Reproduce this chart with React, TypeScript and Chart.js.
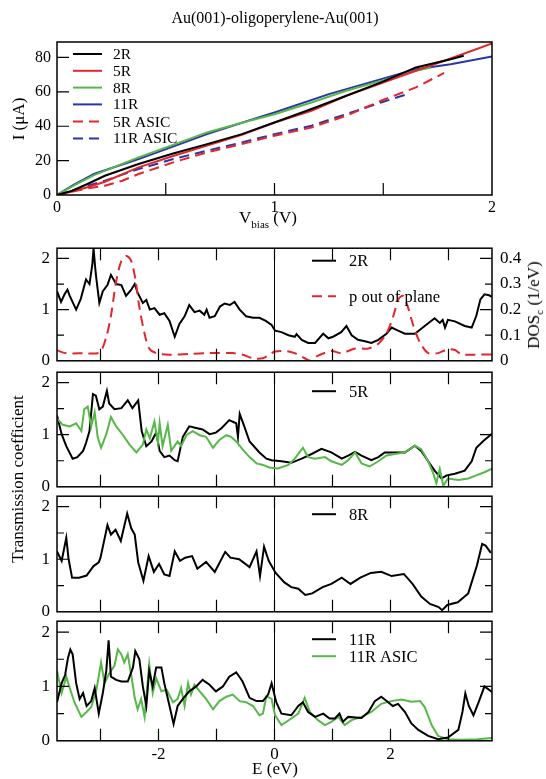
import React, { useEffect, useRef } from 'react';
import { Chart, registerables } from 'chart.js';

Chart.register(...registerables);

const SERIF = '"Liberation Serif", "Times New Roman", serif';
const BLACK = '#000000';
const RED = '#e3262b';
const GREEN = '#55b848';
const BLUE = '#2c35a6';

// ---------------- I-V curves (V in volts, I in µA) ----------------
const v2R = [0, 0.07, 0.14, 0.22, 0.375, 0.53, 0.69, 0.85, 1.0, 1.17, 1.33, 1.49, 1.65, 1.81, 1.87];
const i2R = [0, 2.5, 6.4, 11.2, 18, 24, 29.6, 35.4, 42.2, 50, 57.7, 65.5, 74.2, 79, 81];
const v5R = [0, 0.07, 0.14, 0.22, 0.375, 0.53, 0.69, 0.85, 1.0, 1.17, 1.33, 1.49, 1.65, 1.81, 2.0];
const i5R = [0, 2.0, 4.5, 7.7, 16.1, 22.5, 28.7, 35, 42.2, 49, 57.7, 65, 72.3, 79.4, 88.1];
const v8R = [0, 0.07, 0.17, 0.375, 0.53, 0.69, 0.85, 1.0, 1.17, 1.33, 1.49, 1.65, 1.72];
const i8R = [0, 5, 11.6, 21.9, 29, 36.4, 42, 47, 53.8, 60.6, 66.4, 72.3, 74.2];
const v11R = [0, 0.07, 0.17, 0.375, 0.53, 0.69, 0.85, 1.0, 1.25, 1.49, 1.65, 1.81, 2.0];
const i11R = [0, 5.4, 12.2, 20.9, 28, 35.4, 42, 48, 58.7, 67.4, 73.2, 76.1, 80.6];
const v5RA = [0, 0.14, 0.22, 0.3, 0.375, 0.535, 0.69, 0.85, 1.0, 1.17, 1.33, 1.49, 1.65, 1.78];
const i5RA = [0, 3.9, 5.4, 8.3, 12.2, 19, 24.8, 29.6, 34.5, 39.3, 46.1, 54.8, 62.6, 71];
const v11RA = [0, 0.14, 0.22, 0.375, 0.535, 0.69, 0.85, 1.0, 1.17, 1.33, 1.49, 1.62];
const i11RA = [0, 5.4, 8.3, 15.1, 20.9, 25.8, 30.6, 35.4, 40.3, 47.1, 53.8, 59];

// ---------------- Transmission / DOS (E in eV) ----------------
const e2R = [-3.75, -3.68, -3.62, -3.57, -3.53, -3.42, -3.34, -3.25, -3.19, -3.14, -3.12, -3.09, -3.07, -3.02, -2.96, -2.88, -2.82, -2.73, -2.64, -2.56, -2.47, -2.41, -2.36, -2.27, -2.21, -2.15, -2.07, -1.98, -1.9, -1.81, -1.72, -1.64, -1.55, -1.47, -1.38, -1.29, -1.21, -1.17, -1.12, -1.03, -0.94, -0.86, -0.77, -0.69, -0.6, -0.49, -0.37, -0.26, -0.15, -0.05, 0.01, 0.12, 0.24, 0.35, 0.38, 0.47, 0.58, 0.7, 0.84, 0.93, 1.01, 1.15, 1.24, 1.33, 1.44, 1.56, 1.67, 1.79, 1.93, 2.02, 2.13, 2.25, 2.42, 2.59, 2.76, 2.85, 2.9, 2.94, 2.99, 3.11, 3.28, 3.4, 3.48, 3.55, 3.62, 3.7, 3.75];
const t2R = [1.36, 1.15, 1.3, 1.39, 1.27, 1.0, 1.21, 1.59, 1.5, 1.89, 2.2, 1.8, 1.59, 1.13, 1.36, 1.48, 1.68, 1.5, 1.48, 1.27, 1.39, 1.5, 1.33, 1.13, 1.19, 1.0, 1.03, 0.9, 0.93, 0.78, 0.47, 0.72, 0.87, 1.09, 0.95, 0.98, 0.9, 1.0, 0.84, 0.87, 1.06, 1.12, 1.09, 1.15, 1.0, 0.87, 0.84, 0.84, 0.78, 0.7, 0.59, 0.56, 0.5, 0.47, 0.52, 0.41, 0.35, 0.35, 0.53, 0.44, 0.47, 0.56, 0.68, 0.5, 0.41, 0.38, 0.35, 0.41, 0.53, 0.65, 0.59, 0.53, 0.53, 0.68, 0.83, 0.74, 0.8, 0.65, 0.8, 0.77, 0.68, 0.65, 0.88, 1.2, 1.3, 1.28, 1.25];

const eDos = [-3.75, -3.6, -3.3, -3.02, -2.9, -2.82, -2.73, -2.64, -2.55, -2.47, -2.4, -2.33, -2.24, -2.16, -2.04, -1.81, -1.47, -1.12, -0.72, -0.55, -0.37, -0.2, -0.09, 0.01, 0.21, 0.35, 0.52, 0.61, 0.75, 0.98, 1.16, 1.39, 1.62, 1.79, 1.93, 2.05, 2.14, 2.22, 2.3, 2.39, 2.51, 2.65, 2.82, 2.99, 3.11, 3.22, 3.45, 3.75];
const dosP = [0.041, 0.03, 0.03, 0.033, 0.094, 0.176, 0.31, 0.39, 0.41, 0.39, 0.32, 0.21, 0.106, 0.048, 0.03, 0.024, 0.027, 0.03, 0.03, 0.024, 0.01, 0.01, 0.024, 0.036, 0.038, 0.03, 0.01, 0.0, 0.02, 0.038, 0.03, 0.048, 0.048, 0.067, 0.106, 0.176, 0.242, 0.254, 0.21, 0.14, 0.07, 0.03, 0.03, 0.045, 0.042, 0.026, 0.024, 0.025];

const e5R = [-3.75, -3.67, -3.59, -3.48, -3.4, -3.3, -3.25, -3.19, -3.13, -3.08, -3.02, -2.96, -2.89, -2.85, -2.76, -2.64, -2.53, -2.45, -2.35, -2.29, -2.21, -2.12, -2.04, -1.98, -1.9, -1.81, -1.72, -1.67, -1.58, -1.47, -1.35, -1.24, -1.12, -1.01, -0.91, -0.78, -0.66, -0.63, -0.6, -0.53, -0.43, -0.26, -0.14, -0.05, 0.12, 0.29, 0.47, 0.64, 0.81, 0.98, 1.16, 1.27, 1.39, 1.5, 1.67, 1.79, 1.9, 2.07, 2.25, 2.42, 2.53, 2.65, 2.76, 2.88, 2.97, 3.11, 3.28, 3.4, 3.48, 3.6, 3.75];
const t5R = [1.37, 1.01, 0.78, 0.54, 0.57, 0.69, 0.84, 1.07, 1.78, 1.75, 1.49, 1.54, 1.84, 1.6, 1.49, 1.51, 1.66, 1.51, 1.66, 1.07, 0.78, 0.87, 1.04, 0.69, 0.57, 0.6, 0.51, 0.49, 0.96, 1.16, 1.13, 1.1, 1.01, 1.04, 1.13, 1.28, 1.22, 0.96, 1.4, 1.19, 0.87, 0.66, 0.54, 0.51, 0.49, 0.46, 0.54, 0.63, 0.73, 0.66, 0.54, 0.6, 0.67, 0.6, 0.51, 0.57, 0.66, 0.66, 0.66, 0.79, 0.69, 0.49, 0.31, 0.16, 0.22, 0.25, 0.31, 0.49, 0.75, 0.88, 1.02];

const e5RA = [-3.75, -3.65, -3.53, -3.42, -3.33, -3.28, -3.22, -3.16, -3.1, -3.05, -2.99, -2.9, -2.82, -2.73, -2.61, -2.5, -2.38, -2.27, -2.21, -2.15, -2.07, -2.01, -1.98, -1.93, -1.84, -1.78, -1.67, -1.61, -1.52, -1.41, -1.29, -1.18, -1.06, -0.95, -0.83, -0.75, -0.66, -0.55, -0.43, -0.31, -0.2, -0.09, 0.06, 0.24, 0.35, 0.49, 0.58, 0.7, 0.87, 0.98, 1.16, 1.27, 1.39, 1.5, 1.64, 1.79, 1.93, 2.07, 2.25, 2.42, 2.53, 2.65, 2.74, 2.79, 2.85, 2.91, 2.99, 3.17, 3.34, 3.48, 3.62, 3.75];
const t5RA = [1.31, 1.19, 1.16, 1.22, 1.07, 1.49, 1.54, 1.16, 1.43, 0.96, 0.75, 1.01, 1.34, 1.16, 0.99, 0.81, 0.66, 0.81, 1.1, 0.93, 1.25, 0.84, 1.22, 0.78, 1.19, 0.69, 0.87, 0.78, 0.99, 1.07, 0.99, 0.96, 0.75, 0.9, 0.99, 0.96, 0.87, 0.72, 0.57, 0.45, 0.42, 0.37, 0.35, 0.42, 0.54, 0.75, 0.57, 0.54, 0.57, 0.49, 0.42, 0.51, 0.66, 0.45, 0.39, 0.49, 0.6, 0.63, 0.66, 0.79, 0.72, 0.49, 0.25, 0.07, 0.34, 0.02, 0.16, 0.13, 0.16, 0.22, 0.28, 0.35];

const e8R = [-3.75, -3.67, -3.59, -3.55, -3.49, -3.37, -3.24, -3.12, -3.03, -3.0, -2.88, -2.82, -2.74, -2.65, -2.54, -2.47, -2.41, -2.35, -2.26, -2.17, -2.08, -1.99, -1.9, -1.81, -1.72, -1.63, -1.54, -1.42, -1.33, -1.18, -1.03, -0.85, -0.76, -0.61, -0.43, -0.31, -0.25, -0.18, -0.1, 0.02, 0.17, 0.29, 0.41, 0.53, 0.65, 0.83, 0.98, 1.16, 1.31, 1.48, 1.66, 1.84, 2.02, 2.23, 2.38, 2.53, 2.68, 2.83, 2.89, 2.98, 3.16, 3.34, 3.49, 3.58, 3.64, 3.73];
const t8R = [1.15, 0.97, 1.41, 1.0, 0.65, 0.65, 0.69, 0.87, 0.94, 1.03, 1.65, 1.47, 1.56, 1.35, 1.87, 1.59, 1.47, 0.94, 0.59, 1.06, 0.76, 0.91, 0.71, 0.68, 1.15, 0.97, 1.03, 1.06, 0.82, 0.95, 0.76, 1.14, 1.03, 1.0, 0.85, 1.15, 0.68, 1.24, 0.97, 0.74, 0.56, 0.47, 0.44, 0.32, 0.35, 0.47, 0.53, 0.65, 0.53, 0.65, 0.74, 0.76, 0.68, 0.72, 0.53, 0.29, 0.15, 0.09, 0.03, 0.13, 0.18, 0.35, 0.88, 1.29, 1.26, 1.12];

const e11R = [-3.75, -3.67, -3.61, -3.56, -3.52, -3.48, -3.42, -3.36, -3.3, -3.24, -3.16, -3.1, -3.03, -2.96, -2.9, -2.86, -2.82, -2.73, -2.64, -2.53, -2.44, -2.4, -2.33, -2.27, -2.21, -2.16, -2.1, -2.04, -1.95, -1.9, -1.81, -1.74, -1.67, -1.58, -1.47, -1.35, -1.24, -1.12, -1.01, -0.89, -0.78, -0.66, -0.55, -0.43, -0.31, -0.2, -0.11, -0.05, 0.03, 0.12, 0.29, 0.41, 0.49, 0.58, 0.7, 0.84, 0.95, 1.04, 1.12, 1.18, 1.27, 1.5, 1.62, 1.73, 1.84, 1.96, 2.04, 2.13, 2.25, 2.36, 2.48, 2.65, 2.82, 2.99, 3.17, 3.24, 3.29, 3.35, 3.43, 3.52, 3.62, 3.75];
const t11R = [0.71, 1.06, 1.21, 1.53, 1.68, 1.59, 1.06, 0.77, 0.88, 0.64, 0.73, 0.97, 0.5, 0.88, 1.29, 1.85, 1.18, 1.12, 1.09, 1.09, 1.35, 1.65, 1.5, 1.0, 0.64, 1.29, 1.0, 1.35, 1.35, 1.06, 0.64, 0.31, 0.64, 0.77, 0.91, 1.0, 1.12, 1.03, 0.91, 1.0, 1.18, 1.26, 1.09, 0.79, 0.73, 0.73, 0.85, 1.06, 0.71, 0.5, 0.47, 0.64, 0.71, 0.53, 0.44, 0.5, 0.41, 0.41, 0.5, 0.35, 0.44, 0.42, 0.53, 0.73, 0.81, 0.71, 0.64, 0.68, 0.53, 0.32, 0.2, 0.09, 0.03, 0.06, 0.2, 0.53, 0.87, 0.64, 0.47, 0.71, 1.0, 0.9];

const e11RA = [-3.75, -3.67, -3.59, -3.53, -3.45, -3.33, -3.24, -3.16, -3.07, -2.99, -2.93, -2.85, -2.76, -2.7, -2.64, -2.59, -2.53, -2.47, -2.41, -2.36, -2.3, -2.24, -2.16, -2.1, -2.04, -1.95, -1.86, -1.75, -1.67, -1.61, -1.55, -1.49, -1.44, -1.38, -1.29, -1.18, -1.06, -0.95, -0.83, -0.72, -0.6, -0.49, -0.37, -0.26, -0.2, -0.14, -0.05, 0.01, 0.12, 0.29, 0.41, 0.52, 0.61, 0.75, 0.87, 0.98, 1.1, 1.21, 1.33, 1.5, 1.67, 1.84, 2.01, 2.19, 2.36, 2.51, 2.59, 2.71, 2.82, 2.99, 3.22, 3.5, 3.75];
const t11RA = [1.29, 0.88, 1.18, 0.97, 0.71, 0.44, 0.53, 0.62, 0.94, 1.44, 1.06, 1.24, 1.38, 1.68, 1.59, 1.44, 1.59, 1.21, 0.79, 0.58, 0.77, 0.44, 1.41, 0.88, 1.15, 0.91, 0.94, 0.71, 0.77, 0.97, 0.64, 1.06, 0.85, 1.03, 0.91, 0.77, 0.58, 0.73, 0.81, 0.85, 0.73, 0.71, 0.64, 0.47, 0.5, 0.82, 0.77, 0.47, 0.29, 0.41, 0.5, 0.79, 0.53, 0.38, 0.29, 0.35, 0.44, 0.29, 0.38, 0.44, 0.53, 0.68, 0.73, 0.76, 0.72, 0.73, 0.62, 0.29, 0.09, 0.03, 0.02, 0.03, 0.05];

// ---------------- axis tick definitions ----------------
const vTickStep = 0.5;
const iTickStep = 20;
const eTickStep = 1;
const tTickStep = 0.5;
const dosTickStep = 0.1;

const W = 546;
const PLOT_LEFT = 57;
const PLOT_RIGHT = 492;

const zip = (xs: number[], ys: number[]) =>
  xs.slice(0, Math.min(xs.length, ys.length)).map((x, i) => ({ x, y: ys[i] }));

type LegendItem = { label: string; color: string; dash?: number[]; dy: number };
type FrameOpts = {
  zeroLine?: boolean;
  mirrorX?: boolean;
  mirrorY?: boolean;
  xLen: number;
  yMajor: number;
  yMinor: number;
  legend: { x0: number; x1: number; tx: number; font: string; items: LegendItem[] };
};

function makeFrame(o: FrameOpts) {
  return {
    id: 'frame',
    beforeDatasetsDraw(chart: any) {
      if (!o.zeroLine) return;
      const { ctx, chartArea } = chart;
      const x = chart.scales.x.getPixelForValue(0);
      ctx.save();
      ctx.strokeStyle = BLACK;
      ctx.lineWidth = 1;
      ctx.beginPath();
      ctx.moveTo(x, chartArea.top);
      ctx.lineTo(x, chartArea.bottom);
      ctx.stroke();
      ctx.restore();
    },
    afterDraw(chart: any) {
      const { ctx, chartArea } = chart;
      const { left, right, top, bottom } = chartArea;
      ctx.save();
      ctx.strokeStyle = BLACK;
      ctx.lineWidth = 1.5;
      ctx.setLineDash([]);
      ctx.strokeRect(left, top, right - left, bottom - top);
      ctx.lineWidth = 1.2;
      ctx.beginPath();
      const xs = chart.scales.x;
      xs.ticks.forEach((t: any) => {
        const px = xs.getPixelForValue(t.value);
        if (px <= left + 1 || px >= right - 1) return;
        ctx.moveTo(px, bottom);
        ctx.lineTo(px, bottom - o.xLen);
        if (o.mirrorX) {
          ctx.moveTo(px, top);
          ctx.lineTo(px, top + o.xLen);
        }
      });
      const ys = chart.scales.y;
      ys.ticks.forEach((t: any) => {
        const py = ys.getPixelForValue(t.value);
        if (py <= top + 1 || py >= bottom - 1) return;
        const len = Math.abs(t.value - Math.round(t.value)) < 1e-6 ? o.yMajor : o.yMinor;
        ctx.moveTo(left, py);
        ctx.lineTo(left + len, py);
        if (o.mirrorY) {
          ctx.moveTo(right, py);
          ctx.lineTo(right - len, py);
        }
      });
      ctx.stroke();
      // legend
      const lg = o.legend;
      lg.items.forEach((it) => {
        const y = top + it.dy;
        ctx.beginPath();
        ctx.strokeStyle = it.color;
        ctx.lineWidth = 2;
        ctx.setLineDash(it.dash || []);
        ctx.moveTo(left + lg.x0, y);
        ctx.lineTo(left + lg.x1, y);
        ctx.stroke();
        ctx.setLineDash([]);
        ctx.fillStyle = BLACK;
        ctx.font = lg.font;
        ctx.textBaseline = 'middle';
        ctx.textAlign = 'left';
        ctx.fillText(it.label, left + lg.tx, y + 1);
      });
      ctx.restore();
    },
  };
}

const isInt = (v: number) => Math.abs(v - Math.round(v)) < 1e-6;

function lineDs(label: string, data: { x: number; y: number }[], color: string, dash?: number[], yAxisID = 'y', tension = 0) {
  return {
    label,
    data,
    borderColor: color,
    backgroundColor: color,
    borderWidth: 2,
    borderDash: dash || [],
    pointRadius: 0,
    fill: false,
    tension,
    yAxisID,
  };
}

type PanelSpec = {
  canvasTop: number;
  canvasH: number;
  areaTop: number;
  areaBottom: number;
  build: (areaTop: number, areaBottom: number, canvasTop: number, canvasH: number) => any;
};

function ChartCanvas({ spec }: { spec: PanelSpec }) {
  const ref = useRef<HTMLCanvasElement | null>(null);
  useEffect(() => {
    if (!ref.current) return;
    const chart = new Chart(ref.current, spec.build(spec.areaTop, spec.areaBottom, spec.canvasTop, spec.canvasH));
    return () => chart.destroy();
  }, []);
  return (
    <canvas
      ref={ref}
      width={W}
      height={spec.canvasH}
      style={{ position: 'absolute', left: 0, top: spec.canvasTop, width: W, height: spec.canvasH }}
    />
  );
}

const tickFont = (size: number) => ({ family: SERIF, size });

function ivConfig(areaTop: number, areaBottom: number, canvasTop: number, canvasH: number) {
  const frame = makeFrame({
    xLen: 12,
    yMajor: 12,
    yMinor: 12,
    legend: {
      x0: 16,
      x1: 45,
      tx: 56,
      font: `15.5px ${SERIF}`,
      items: [
        { label: '2R', color: BLACK, dy: 12 },
        { label: '5R', color: RED, dy: 28.8 },
        { label: '8R', color: GREEN, dy: 45.6 },
        { label: '11R', color: BLUE, dy: 62.4 },
        { label: '5R ASIC', color: RED, dash: [10, 6], dy: 79.6 },
        { label: '11R ASIC', color: BLUE, dash: [10, 6], dy: 96.4 },
      ],
    },
  });
  return {
    type: 'line',
    data: {
      datasets: [
        lineDs('2R', zip(v2R, i2R), BLACK),
        lineDs('5R', zip(v5R, i5R), RED),
        lineDs('8R', zip(v8R, i8R), GREEN),
        lineDs('11R', zip(v11R, i11R), BLUE),
        lineDs('5R ASIC', zip(v5RA, i5RA), RED, [10, 6]),
        lineDs('11R ASIC', zip(v11RA, i11RA), BLUE, [10, 6]),
      ],
    },
    options: {
      animation: false,
      responsive: false,
      events: [],
      layout: { padding: { left: 0, right: W - PLOT_RIGHT, top: areaTop - canvasTop, bottom: 0 } },
      plugins: { legend: { display: false }, tooltip: { enabled: false }, title: { display: false } },
      scales: {
        x: {
          type: 'linear',
          min: 0,
          max: 2,
          afterFit: (s: any) => { s.height = canvasTop + canvasH - areaBottom; },
          grid: { display: false, drawTicks: false },
          border: { display: false },
          ticks: {
            stepSize: vTickStep,
            includeBounds: false,
            autoSkip: false,
            maxRotation: 0,
            padding: 3,
            color: BLACK,
            font: tickFont(16),
            callback: (v: number) => (isInt(v) ? String(Math.round(v)) : ''),
          },
        },
        y: {
          type: 'linear',
          min: 0,
          max: 89,
          afterFit: (s: any) => { s.width = PLOT_LEFT; },
          grid: { display: false, drawTicks: false },
          border: { display: false },
          ticks: {
            stepSize: iTickStep,
            includeBounds: false,
            autoSkip: false,
            padding: 6,
            color: BLACK,
            font: tickFont(16),
            callback: (v: number) => String(Math.round(v)),
          },
        },
      },
    },
    plugins: [frame],
  };
}

function panelConfig(
  datasets: any[],
  legendItems: LegendItem[],
  showXLabels: boolean,
  withDos: boolean
) {
  return (areaTop: number, areaBottom: number, canvasTop: number, canvasH: number) => {
    const frame = makeFrame({
      zeroLine: true,
      mirrorX: true,
      mirrorY: true,
      xLen: 12,
      yMajor: 12,
      yMinor: 7,
      legend: { x0: 255, x1: 279, tx: 292, font: `16.5px ${SERIF}`, items: legendItems },
    });
    const scales: any = {
      x: {
        type: 'linear',
        min: -3.75,
        max: 3.75,
        afterFit: (s: any) => { s.height = canvasTop + canvasH - areaBottom; },
        grid: { display: false, drawTicks: false },
        border: { display: false },
        ticks: {
          display: showXLabels,
          stepSize: eTickStep,
          includeBounds: false,
          autoSkip: false,
          maxRotation: 0,
          padding: 4,
          color: BLACK,
          font: tickFont(17),
          callback: (v: number) => (Math.round(v) % 2 === 0 ? String(Math.round(v)) : ''),
        },
      },
      y: {
        type: 'linear',
        position: 'left',
        min: 0,
        max: 2.2,
        afterFit: (s: any) => { s.width = PLOT_LEFT; },
        grid: { display: false, drawTicks: false },
        border: { display: false },
        ticks: {
          stepSize: tTickStep,
          includeBounds: false,
          autoSkip: false,
          padding: 7,
          color: BLACK,
          font: tickFont(17),
          callback: (v: number) => (isInt(v) ? String(Math.round(v)) : ''),
        },
      },
    };
    if (withDos) {
      scales.y1 = {
        type: 'linear',
        position: 'right',
        min: 0,
        max: 0.44,
        afterFit: (s: any) => { s.width = W - PLOT_RIGHT; },
        grid: { display: false, drawTicks: false },
        border: { display: false },
        ticks: {
          stepSize: dosTickStep,
          includeBounds: false,
          autoSkip: false,
          padding: 8,
          color: BLACK,
          font: tickFont(17),
          callback: (v: number) => String(Math.round(v * 10) / 10),
        },
      };
    }
    return {
      type: 'line',
      data: { datasets },
      options: {
        animation: false,
        responsive: false,
        events: [],
        layout: {
          padding: { left: 0, right: withDos ? 0 : W - PLOT_RIGHT, top: areaTop - canvasTop, bottom: 0 },
        },
        plugins: { legend: { display: false }, tooltip: { enabled: false }, title: { display: false } },
        scales,
      },
      plugins: [frame],
    };
  };
}

const PANEL_TOPS = [242.4, 367.0, 491.6, 616.2];
const PANEL_BOTTOM = 740.8;

function panelSpec(i: number, build: PanelSpec['build'], last: boolean): PanelSpec {
  const areaTop = PANEL_TOPS[i];
  const areaBottom = i < 3 ? PANEL_TOPS[i + 1] : PANEL_BOTTOM;
  const canvasTop = Math.floor(areaTop) - 12;
  const canvasBottom = last ? 779 : Math.ceil(areaBottom) + 12;
  return { canvasTop, canvasH: canvasBottom - canvasTop, areaTop, areaBottom, build };
}

const specs: PanelSpec[] = [
  { canvasTop: 0, canvasH: 232, areaTop: 42, areaBottom: 195, build: ivConfig },
  panelSpec(
    0,
    panelConfig(
      [
        lineDs('p out of plane', zip(eDos, dosP), RED, [10, 6], 'y1', 0.3),
        lineDs('2R', zip(e2R, t2R), BLACK),
      ],
      [
        { label: '2R', color: BLACK, dy: 12.5 },
        { label: 'p out of plane', color: RED, dash: [10, 6], dy: 48 },
      ],
      false,
      true
    ),
    false
  ),
  panelSpec(
    1,
    panelConfig(
      [lineDs('5R ASIC', zip(e5RA, t5RA), GREEN), lineDs('5R', zip(e5R, t5R), BLACK)],
      [{ label: '5R', color: BLACK, dy: 19 }],
      false,
      false
    ),
    false
  ),
  panelSpec(
    2,
    panelConfig([lineDs('8R', zip(e8R, t8R), BLACK)], [{ label: '8R', color: BLACK, dy: 18 }], false, false),
    false
  ),
  panelSpec(
    3,
    panelConfig(
      [lineDs('11R', zip(e11R, t11R), BLACK), lineDs('11R ASIC', zip(e11RA, t11RA), GREEN)],
      [
        { label: '11R', color: BLACK, dy: 18 },
        { label: '11R ASIC', color: GREEN, dy: 35 },
      ],
      true,
      false
    ),
    true
  ),
];

const txt: React.CSSProperties = {
  position: 'absolute',
  fontFamily: SERIF,
  color: BLACK,
  whiteSpace: 'nowrap',
  lineHeight: 1,
};

export default function App() {
  return (
    <div style={{ position: 'absolute', left: 0, top: 0, width: W, height: 779, background: '#fff', overflow: 'hidden' }}>
      {specs.map((s, i) => (
        <ChartCanvas key={i} spec={s} />
      ))}
      <div style={{ ...txt, left: 275, top: 18, fontSize: 16, transform: 'translate(-50%, -50%)' }}>
        Au(001)-oligoperylene-Au(001)
      </div>
      <div style={{ ...txt, left: 18, top: 119, fontSize: 17, transform: 'translate(-50%, -50%) rotate(-90deg)' }}>
        I (μA)
      </div>
      <div style={{ ...txt, left: 268, top: 219, fontSize: 17, transform: 'translate(-50%, -50%)' }}>
        V<sub style={{ fontSize: 11, verticalAlign: '-5px' }}>bias</sub> (V)
      </div>
      <div style={{ ...txt, left: 17, top: 479, fontSize: 17, transform: 'translate(-50%, -50%) rotate(-90deg)' }}>
        Transmission coefficient
      </div>
      <div style={{ ...txt, left: 535, top: 305, fontSize: 17, transform: 'translate(-50%, -50%) rotate(-90deg)' }}>
        DOS<sub style={{ fontSize: 11, verticalAlign: '-4px' }}>c</sub> (1/eV)
      </div>
      <div style={{ ...txt, left: 275, top: 768, fontSize: 17, transform: 'translate(-50%, -50%)' }}>
        E (eV)
      </div>
    </div>
  );
}
